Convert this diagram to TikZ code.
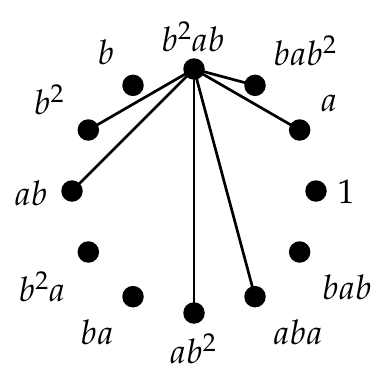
\documentclass[tikz,border=0pt]{standalone}
\usepackage{mathpazo}
\begin{document}
\begin{tikzpicture}[x=1pt,y=1pt,
  dot/.style={circle,fill=black,inner sep=0pt,minimum size=21.5pt},
  lab/.style={inner sep=0pt,font=\fontsize{34}{38}\selectfont},
  edge/.style={line width=2.7pt}]
\useasboundingbox (0,0) rectangle (373,-367);
\begin{scope}[shift={(194,-191)}]
\foreach \a in {0,30,...,330} {\node[dot] (n\a) at (\a:122) {};}
\end{scope}
% labels
\node[lab] (l90)  at (193,-37)  {$b^2ab$};
\node[lab] (l60)  at (305,-51)  {$bab^2$};
\node[lab] (l30)  at (329,-103) {$a$};
\node[lab] (l0)   at (346,-192) {$1$};
\node[lab] (l330) at (347,-287) {$bab$};
\node[lab] (l300) at (298,-332) {$aba$};
\node[lab] (l270) at (193,-349) {$ab^2$};
\node[lab] (l240) at (97,-332)  {$ba$};
\node[lab] (l210) at (42,-287)  {$b^2a$};
\node[lab] (l180) at (31,-193)  {$ab$};
\node[lab] (l150) at (49,-100)  {$b^2$};
\node[lab] (l120) at (106,-52)  {$b$};
% edges
\foreach \t in {60,30,300,270,180,150} {\draw[edge] (n90.center) -- (n\t.center);}
\end{tikzpicture}
\end{document}
